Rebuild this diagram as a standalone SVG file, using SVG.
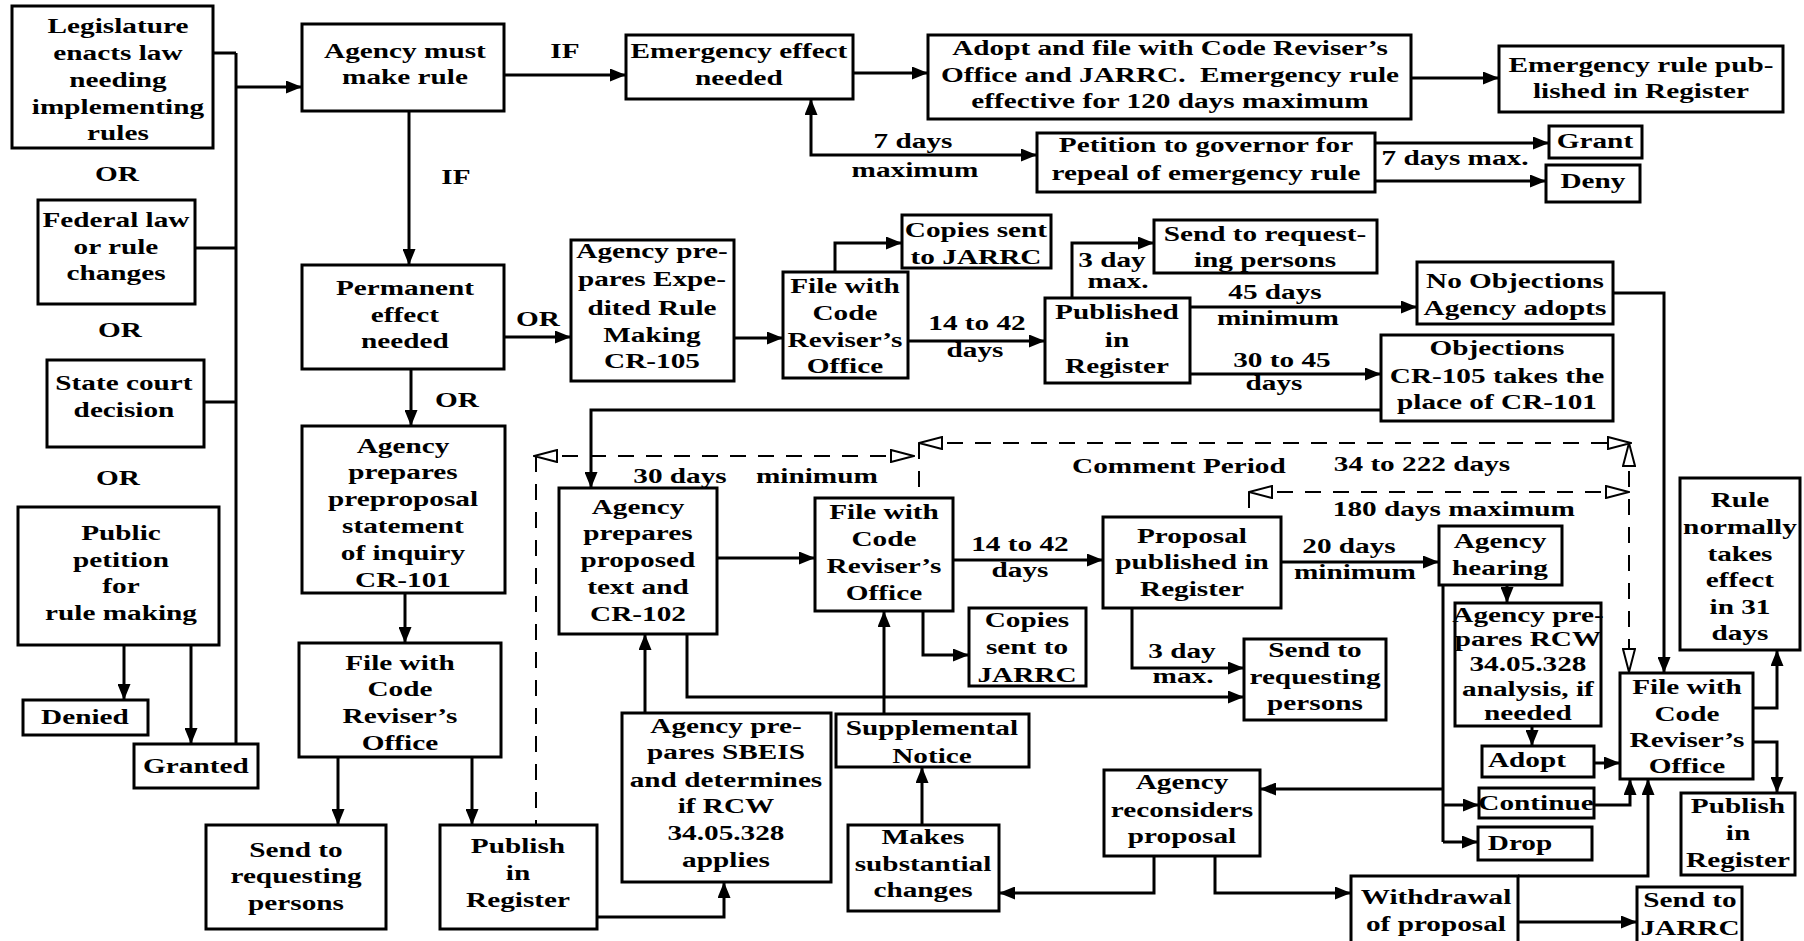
<svg xmlns="http://www.w3.org/2000/svg" width="1804" height="941" viewBox="0 0 1804 941">
<defs>
<style>
.box{fill:#fff;stroke:#000;stroke-width:3}
.ln{fill:none;stroke:#000;stroke-width:3}
.ar{marker-end:url(#ah)}
.ar2{marker-start:url(#ah);marker-end:url(#ah)}
.dash{fill:none;stroke:#000;stroke-width:2;stroke-dasharray:16 12}
.h2{marker-start:url(#hh);marker-end:url(#hh)}
text{font-family:"Liberation Serif","Times New Roman",serif;font-weight:bold;font-size:22px;text-anchor:middle;fill:#000;transform-box:fill-box;transform-origin:center;transform:scaleX(1.33)}
</style>
<marker id="ah" viewBox="0 0 16 13" refX="16" refY="6.5" markerWidth="16" markerHeight="13" markerUnits="userSpaceOnUse" orient="auto-start-reverse">
<path d="M0,0 L16,6.5 L0,13 z" fill="#000" stroke="none"/>
</marker>
<marker id="hh" viewBox="0 0 25 14" refX="24" refY="7" markerWidth="25" markerHeight="14" markerUnits="userSpaceOnUse" orient="auto-start-reverse">
<path d="M1,1 L24,7 L1,13 z" fill="#fff" stroke="#000" stroke-width="2" stroke-dasharray="none"/>
</marker>
</defs>
<rect x="0" y="0" width="1804" height="941" fill="#fff"/>

<g id="connectors">
<path class="ln" d="M213,53 H236 M195,248 H236 M204,402 H236 M236,53 V744"/>
<path class="ln ar" d="M236,87 H302"/>
<path class="ln ar" d="M504,75 H626"/>
<path class="ln ar" d="M409,111 V265"/>
<path class="ln ar" d="M853,73 H928"/>
<path class="ln ar" d="M1411,78 H1499"/>
<path class="ln ar2" d="M811,99 V155 H1037"/>
<path class="ln ar" d="M1375,143 H1549"/>
<path class="ln ar" d="M1375,181 H1546"/>
<path class="ln ar" d="M504,337 H571"/>
<path class="ln ar" d="M411,369 V426"/>
<path class="ln ar" d="M734,338 H783"/>
<path class="ln ar" d="M835,272 V243 H902"/>
<path class="ln ar" d="M908,341 H1045"/>
<path class="ln ar" d="M1072,298 V243 H1154"/>
<path class="ln ar" d="M1190,307 H1417"/>
<path class="ln ar" d="M1190,374 H1381"/>
<path class="ln ar" d="M1613,293 H1664 V673"/>
<path class="ln ar" d="M1381,410 H591 V488"/>
<path class="ln ar" d="M405,593 V643"/>
<path class="ln ar" d="M338,757 V825"/>
<path class="ln ar" d="M472,757 V825"/>
<path class="ln ar" d="M597,917 H724 V882"/>
<path class="ln ar" d="M645,713 V634"/>
<path class="ln ar" d="M717,558 H815"/>
<path class="ln ar" d="M687,634 V697 H1244"/>
<path class="ln ar" d="M923,611 V655 H969"/>
<path class="ln ar" d="M953,560 H1103"/>
<path class="ln ar" d="M884,714 V611"/>
<path class="ln ar" d="M922,825 V767"/>
<path class="ln ar" d="M1132,608 V668 H1244"/>
<path class="ln ar" d="M1281,562 H1439"/>
<path class="ln ar" d="M1507,585 V603"/>
<path class="ln" d="M1443,585 V842"/>
<path class="ln ar" d="M1443,789 H1260"/>
<path class="ln ar" d="M1443,805 H1479"/>
<path class="ln ar" d="M1443,842 H1478"/>
<path class="ln ar" d="M1532,726 V746"/>
<path class="ln ar" d="M1594,763 H1620"/>
<path class="ln ar" d="M1594,805 H1630 V779"/>
<path class="ln ar" d="M1518,876 H1648 V779"/>
<path class="ln ar" d="M1154,856 V893 H999"/>
<path class="ln ar" d="M1215,856 V893 H1351"/>
<path class="ln ar" d="M1518,922 H1637"/>
<path class="ln ar" d="M1753,708 H1777 V650"/>
<path class="ln ar" d="M1753,742 H1777 V793"/>
<path class="ln ar" d="M124,645 V700"/>
<path class="ln ar" d="M191,645 V744"/>
<path class="dash h2" d="M534,456 H914"/>
<path class="dash" d="M536,456 V825"/>
<path class="dash" d="M919,443 V498"/>
<path class="dash h2" d="M919,443 H1631"/>
<path class="dash h2" d="M1629,443 V672"/>
<path class="dash h2" d="M1249,492 H1629"/>
<path class="dash" d="M1249,492 V517"/>
</g>

<g id="labels">
<text x="117" y="181">OR</text>
<text x="120" y="337">OR</text>
<text x="118" y="485">OR</text>
<text x="565" y="58">IF</text>
<text x="456" y="184">IF</text>
<text x="538" y="326">OR</text>
<text x="457" y="407">OR</text>
<text x="913" y="148">7 days</text>
<text x="915" y="177">maximum</text>
<text x="1455" y="165">7 days max.</text>
<text x="1112" y="267">3 day</text>
<text x="1118" y="288">max.</text>
<text x="977" y="330">14 to 42</text>
<text x="975" y="357">days</text>
<text x="1275" y="299">45 days</text>
<text x="1278" y="325">minimum</text>
<text x="1282" y="367">30 to 45</text>
<text x="1274" y="390">days</text>
<text x="680" y="483">30 days</text>
<text x="817" y="483">minimum</text>
<text x="1179" y="473">Comment Period</text>
<text x="1422" y="471">34 to 222 days</text>
<text x="1454" y="516">180 days maximum</text>
<text x="1020" y="551">14 to 42</text>
<text x="1020" y="577">days</text>
<text x="1349" y="553">20 days</text>
<text x="1355" y="579">minimum</text>
<text x="1182" y="658">3 day</text>
<text x="1183" y="683">max.</text>
</g>

<g id="legislature"><rect class="box" x="12" y="6" width="201" height="142"/><text x="118" y="33">Legislature</text><text x="118" y="60">enacts law</text><text x="118" y="87">needing</text><text x="118" y="114">implementing</text><text x="118" y="140">rules</text></g>
<g id="federal"><rect class="box" x="38" y="200" width="157" height="104"/><text x="116" y="227">Federal law</text><text x="116" y="254">or rule</text><text x="116" y="280">changes</text></g>
<g id="state"><rect class="box" x="47" y="360" width="157" height="87"/><text x="124" y="390">State court</text><text x="124" y="417">decision</text></g>
<g id="public"><rect class="box" x="18" y="507" width="201" height="138"/><text x="121" y="540">Public</text><text x="121" y="567">petition</text><text x="121" y="593">for</text><text x="121" y="620">rule making</text></g>
<g id="denied"><rect class="box" x="23" y="700" width="125" height="35"/><text x="85" y="724">Denied</text></g>
<g id="granted"><rect class="box" x="134" y="744" width="124" height="44"/><text x="196" y="773">Granted</text></g>
<g id="agency-must"><rect class="box" x="302" y="24" width="202" height="87"/><text x="405" y="58">Agency must</text><text x="405" y="84">make rule</text></g>
<g id="permanent"><rect class="box" x="302" y="265" width="202" height="104"/><text x="405" y="295">Permanent</text><text x="405" y="322">effect</text><text x="405" y="348">needed</text></g>
<g id="cr101"><rect class="box" x="302" y="426" width="203" height="167"/><text x="403" y="453">Agency</text><text x="403" y="479">prepares</text><text x="403" y="506">preproposal</text><text x="403" y="533">statement</text><text x="403" y="560">of inquiry</text><text x="403" y="587">CR-101</text></g>
<g id="file-preproposal"><rect class="box" x="299" y="643" width="202" height="114"/><text x="400" y="670">File with</text><text x="400" y="696">Code</text><text x="400" y="723">Reviser’s</text><text x="400" y="750">Office</text></g>
<g id="send-preproposal"><rect class="box" x="206" y="825" width="180" height="104"/><text x="296" y="857">Send to</text><text x="296" y="883">requesting</text><text x="296" y="910">persons</text></g>
<g id="publish-preproposal"><rect class="box" x="440" y="825" width="157" height="104"/><text x="518" y="853">Publish</text><text x="518" y="880">in</text><text x="518" y="907">Register</text></g>
<g id="emergency"><rect class="box" x="626" y="35" width="227" height="64"/><text x="739" y="58">Emergency effect</text><text x="739" y="85">needed</text></g>
<g id="adopt-emergency"><rect class="box" x="928" y="35" width="483" height="84"/><text x="1170" y="55">Adopt and file with Code Reviser’s</text><text x="1170" y="82">Office and JARRC.&#160; Emergency rule</text><text x="1170" y="108">effective for 120 days maximum</text></g>
<g id="emergency-published"><rect class="box" x="1499" y="46" width="284" height="66"/><text x="1641" y="72">Emergency rule pub-</text><text x="1641" y="98">lished in Register</text></g>
<g id="petition"><rect class="box" x="1037" y="133" width="338" height="59"/><text x="1206" y="152">Petition to governor for</text><text x="1206" y="180">repeal of emergency rule</text></g>
<g id="grant"><rect class="box" x="1549" y="126" width="93" height="32"/><text x="1595" y="148">Grant</text></g>
<g id="deny"><rect class="box" x="1546" y="165" width="94" height="37"/><text x="1593" y="188">Deny</text></g>
<g id="cr105"><rect class="box" x="571" y="240" width="163" height="141"/><text x="652" y="258">Agency pre-</text><text x="652" y="286">pares Expe-</text><text x="652" y="315">dited Rule</text><text x="652" y="342">Making</text><text x="652" y="368">CR-105</text></g>
<g id="file-expedited"><rect class="box" x="783" y="272" width="125" height="106"/><text x="845" y="293">File with</text><text x="845" y="320">Code</text><text x="845" y="347">Reviser’s</text><text x="845" y="373">Office</text></g>
<g id="copies-expedited"><rect class="box" x="902" y="215" width="149" height="53"/><text x="976" y="237">Copies sent</text><text x="976" y="264">to JARRC</text></g>
<g id="published-expedited"><rect class="box" x="1045" y="298" width="145" height="85"/><text x="1117" y="319">Published</text><text x="1117" y="347">in</text><text x="1117" y="373">Register</text></g>
<g id="send-expedited"><rect class="box" x="1154" y="220" width="223" height="53"/><text x="1265" y="241">Send to request-</text><text x="1265" y="267">ing persons</text></g>
<g id="no-objections"><rect class="box" x="1417" y="262" width="196" height="62"/><text x="1515" y="288">No Objections</text><text x="1515" y="315">Agency adopts</text></g>
<g id="objections"><rect class="box" x="1381" y="335" width="232" height="86"/><text x="1497" y="355">Objections</text><text x="1497" y="383">CR-105 takes the</text><text x="1497" y="409">place of CR-101</text></g>
<g id="cr102"><rect class="box" x="559" y="488" width="158" height="146"/><text x="638" y="514">Agency</text><text x="638" y="540">prepares</text><text x="638" y="567">proposed</text><text x="638" y="594">text and</text><text x="638" y="621">CR-102</text></g>
<g id="file-proposal"><rect class="box" x="815" y="498" width="138" height="113"/><text x="884" y="519">File with</text><text x="884" y="546">Code</text><text x="884" y="573">Reviser’s</text><text x="884" y="600">Office</text></g>
<g id="copies-proposal"><rect class="box" x="969" y="608" width="117" height="78"/><text x="1027" y="627">Copies</text><text x="1027" y="654">sent to</text><text x="1027" y="682">JARRC</text></g>
<g id="sbeis"><rect class="box" x="622" y="713" width="209" height="169"/><text x="726" y="733">Agency pre-</text><text x="726" y="759">pares SBEIS</text><text x="726" y="787">and determines</text><text x="726" y="813">if RCW</text><text x="726" y="840">34.05.328</text><text x="726" y="867">applies</text></g>
<g id="supplemental"><rect class="box" x="836" y="714" width="193" height="53"/><text x="932" y="735">Supplemental</text><text x="932" y="763">Notice</text></g>
<g id="makes-changes"><rect class="box" x="848" y="825" width="151" height="86"/><text x="923" y="844">Makes</text><text x="923" y="871">substantial</text><text x="923" y="897">changes</text></g>
<g id="proposal"><rect class="box" x="1103" y="517" width="178" height="91"/><text x="1192" y="543">Proposal</text><text x="1192" y="569">published in</text><text x="1192" y="596">Register</text></g>
<g id="send-proposal"><rect class="box" x="1244" y="639" width="142" height="81"/><text x="1315" y="657">Send to</text><text x="1315" y="684">requesting</text><text x="1315" y="710">persons</text></g>
<g id="hearing"><rect class="box" x="1439" y="526" width="123" height="59"/><text x="1500" y="548">Agency</text><text x="1500" y="575">hearing</text></g>
<g id="rcw"><rect class="box" x="1455" y="603" width="146" height="123"/><text x="1528" y="622">Agency pre-</text><text x="1528" y="646">pares RCW</text><text x="1528" y="671">34.05.328</text><text x="1528" y="696">analysis, if</text><text x="1528" y="720">needed</text></g>
<g id="adopt"><rect class="box" x="1482" y="746" width="112" height="31"/><text x="1527" y="767">Adopt</text></g>
<g id="continue"><rect class="box" x="1479" y="788" width="115" height="30"/><text x="1536" y="810">Continue</text></g>
<g id="drop"><rect class="box" x="1478" y="827" width="114" height="33"/><text x="1520" y="850">Drop</text></g>
<g id="reconsider"><rect class="box" x="1104" y="770" width="156" height="86"/><text x="1182" y="789">Agency</text><text x="1182" y="817">reconsiders</text><text x="1182" y="843">proposal</text></g>
<g id="withdrawal"><rect class="box" x="1351" y="876" width="167" height="70"/><text x="1436" y="904">Withdrawal</text><text x="1436" y="931">of proposal</text></g>
<g id="send-jarrc"><rect class="box" x="1637" y="887" width="105" height="60"/><text x="1690" y="907">Send to</text><text x="1690" y="935">JARRC</text></g>
<g id="file-final"><rect class="box" x="1620" y="673" width="133" height="106"/><text x="1687" y="694">File with</text><text x="1687" y="721">Code</text><text x="1687" y="747">Reviser’s</text><text x="1687" y="773">Office</text></g>
<g id="rule-effect"><rect class="box" x="1680" y="478" width="120" height="172"/><text x="1740" y="507">Rule</text><text x="1740" y="534">normally</text><text x="1740" y="561">takes</text><text x="1740" y="587">effect</text><text x="1740" y="614">in 31</text><text x="1740" y="640">days</text></g>
<g id="publish-final"><rect class="box" x="1681" y="793" width="114" height="82"/><text x="1738" y="813">Publish</text><text x="1738" y="840">in</text><text x="1738" y="867">Register</text></g>
</svg>
